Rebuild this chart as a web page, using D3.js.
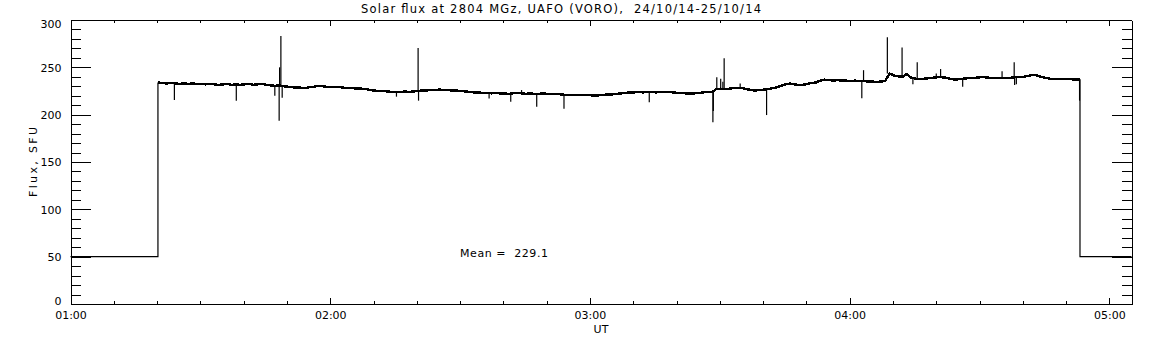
<!DOCTYPE html>
<html>
<head>
<meta charset="utf-8">
<script src="https://cdn.jsdelivr.net/npm/d3@7"></script>
<style>
body { margin: 0; background: #fff; }
text { font-family: "DejaVu Sans", sans-serif; fill: #000; }
</style>
</head>
<body>
<svg id="chart"></svg>
<script>
var title = "Solar flux at 2804 MGz, UAFO (VORO),  24/10/14-25/10/14";
var xTitle = "UT";
var yTitle = "Flux, SFU";
var meanLabel = "Mean =  229.1";

// time is minutes after 01:00 UT
var hourTicks = [0, 60, 120, 180, 240];
var hourLabels = ["01:00", "02:00", "03:00", "04:00", "05:00"];
var yTicks = [0, 50, 100, 150, 200, 250, 300];
var yLabels = ["0", "50", "100", "150", "200", "250", "300"];

var offLevel = 50;
var fluxStartMin = 20.2;
// one reading per minute from 01:20 to 04:53
var flux = [
  234, 233.5, 233, 233.5, 233, 232.5, 233, 232.5, 233, 232.5,
  232.5, 232, 232.5, 232, 231.5, 232, 232.5, 231.5, 232, 231.5,
  232, 232.5, 231.5, 232, 232.5, 231.5, 231, 230.5, 231, 230,
  229.5, 229, 228.5, 228.5, 228, 229, 229.5, 230.5, 230, 229.5,
  229.5, 229, 229, 228.5, 228, 228, 227.5, 227.5, 227, 226,
  225.5, 225, 225, 224.5, 224, 224, 224, 224.5, 224, 224.5,
  225, 225.5, 225.5, 226, 226, 226.5, 226, 226, 225.5, 225.5,
  225, 224.5, 224, 223.5, 223.5, 223, 223, 222.5, 223, 222.5,
  222.5, 222, 222.5, 223, 222.5, 222, 222.5, 222, 222, 222.5,
  222, 221.5, 222, 221.5, 221, 221, 220.5, 221, 220.5, 220.5,
  220.5, 220, 220.5, 221, 221.5, 221.5, 222, 222.5, 223, 223.5,
  223.5, 224, 223.5, 224, 224, 223.5, 224, 224, 224, 223.5,
  223, 223, 222.5, 222.5, 222.5, 223, 223.5, 224, 224, 227,
  227.5, 227, 227.5, 228, 228, 228, 227, 226, 225.5, 226,
  226.5, 227, 228, 229, 230.5, 232, 233, 232, 231.5, 231.5,
  232.5, 233.5, 234, 236, 237, 236.5, 236, 236.5, 236, 236,
  235.5, 236, 235.5, 235.5, 235, 235, 234.5, 235, 235.5, 243.5,
  241.5, 240.5, 240, 243, 239, 238, 237.5, 238, 238.5, 239,
  239.5, 239.5, 239, 238, 237, 237.5, 238, 238.5, 239, 239,
  239.5, 239.5, 239, 238.5, 238.5, 238.5, 239, 239, 239.5, 239.5,
  240, 241, 242, 241.5, 240, 239, 238, 237.5, 237.5, 238,
  237.5, 237.5, 237, 237.5
];

// short spikes (minute, peak value)
var spikeMin = [24.0, 38.3, 47.2, 48.2, 48.3, 48.6, 48.9, 75.3, 80.3, 80.4,
  96.7, 101.7, 104.2, 107.7, 114.0, 133.7, 148.4, 148.5, 149.3, 150.2,
  150.7, 151.0, 154.7, 160.8, 182.8, 183.2, 188.7, 192.1, 194.6, 195.6,
  200.0, 201.0, 206.1, 215.2, 218.0, 218.1, 218.5, 233.1];
var spikeVal = [215.5, 214.7, 220, 193.6, 250, 283, 218, 219, 270.4, 214.8,
  217, 213.7, 226, 208.4, 206.3, 213, 192, 204, 239.4, 238,
  234.8, 259.5, 233, 199.6, 217.3, 247, 281.7, 271, 232, 255.3,
  243.6, 248.2, 229.5, 245.8, 255.3, 231.3, 232, 214.8];

var width = 1152, height = 345;
var plot = { left: 70.5, right: 1131.5, top: 20, bottom: 304 };
var endMin = 245.1;

var svg = d3.select("#chart")
  .attr("width", width)
  .attr("height", height);

svg.append("rect").attr("width", width).attr("height", height).attr("fill", "#fff");

var xScale = d3.scaleLinear().domain([0, endMin]).range([plot.left, plot.right]);
var yScale = d3.scaleLinear().domain([0, 300]).range([plot.bottom, plot.top]);

var minorX = d3.range(10, endMin, 10).filter(function(d) { return d % 60 != 0; });
var minorY = d3.range(10, 300, 10).filter(function(d) { return d % 50 != 0; });

function styleAxis(g) {
  g.selectAll("path,line").attr("stroke", "#000").attr("stroke-width", 1).attr("shape-rendering", "crispEdges");
  g.selectAll("text").attr("font-size", 11).attr("font-family", "DejaVu Sans, sans-serif").attr("fill", "#000");
}

// left axis, ticks pointing in
var leftAxis = svg.append("g")
  .attr("transform", "translate(" + plot.left + ",0)")
  .call(d3.axisLeft(yScale).tickValues(yTicks).tickSize(-20).tickSizeOuter(0).tickPadding(9)
    .tickFormat(function(d, i) { return yLabels[i]; }))
  .call(styleAxis);
leftAxis.selectAll(".tick text").attr("dy", function(d) {
  if (d == 300) return "0.72em";
  if (d == 0) return "0em";
  return "0.36em";
});
svg.append("g")
  .attr("transform", "translate(" + plot.left + ",0)")
  .call(d3.axisLeft(yScale).tickValues(minorY).tickSize(-10).tickSizeOuter(0).tickFormat(""))
  .call(styleAxis);

// right axis
svg.append("g")
  .attr("transform", "translate(" + plot.right + ",0)")
  .call(d3.axisRight(yScale).tickValues(yTicks).tickSize(-20).tickSizeOuter(0).tickFormat(""))
  .call(styleAxis);
svg.append("g")
  .attr("transform", "translate(" + plot.right + ",0)")
  .call(d3.axisRight(yScale).tickValues(minorY).tickSize(-10).tickSizeOuter(0).tickFormat(""))
  .call(styleAxis);

// bottom axis
svg.append("g")
  .attr("transform", "translate(0," + plot.bottom + ")")
  .call(d3.axisBottom(xScale).tickValues(hourTicks).tickSize(-6).tickSizeOuter(0).tickPadding(7)
    .tickFormat(function(d, i) { return hourLabels[i]; }))
  .call(styleAxis);
svg.append("g")
  .attr("transform", "translate(0," + plot.bottom + ")")
  .call(d3.axisBottom(xScale).tickValues(minorX).tickSize(-3).tickSizeOuter(0).tickFormat(""))
  .call(styleAxis);

// top axis
svg.append("g")
  .attr("transform", "translate(0," + plot.top + ")")
  .call(d3.axisTop(xScale).tickValues(hourTicks).tickSize(-6).tickSizeOuter(0).tickFormat(""))
  .call(styleAxis);
svg.append("g")
  .attr("transform", "translate(0," + plot.top + ")")
  .call(d3.axisTop(xScale).tickValues(minorX).tickSize(-3).tickSizeOuter(0).tickFormat(""))
  .call(styleAxis);

// data
var fluxPts = flux.map(function(v, i) { return [fluxStartMin + i, v]; });
var lastMin = fluxStartMin + flux.length - 1;
var line = d3.line()
  .x(function(d) { return xScale(d[0]); })
  .y(function(d) { return yScale(d[1]); });

var offPts = [[0, offLevel], [fluxStartMin, offLevel], [fluxStartMin, flux[0]]];
var offPts2 = [[lastMin, flux[flux.length - 1]], [lastMin, offLevel], [endMin, offLevel]];

svg.append("path").datum(offPts).attr("d", line)
  .attr("fill", "none").attr("stroke", "#000").attr("stroke-width", 1.2);
svg.append("path").datum(offPts2).attr("d", line)
  .attr("fill", "none").attr("stroke", "#000").attr("stroke-width", 1.2);
svg.append("path").datum(fluxPts).attr("d", line)
  .attr("fill", "none").attr("stroke", "#000").attr("stroke-width", 2.4)
  .attr("shape-rendering", "crispEdges");

var spikes = spikeMin.map(function(m, i) {
  var base = flux[Math.max(0, Math.min(flux.length - 1, Math.round(m - fluxStartMin)))];
  return { m: m, base: base, v: spikeVal[i] };
});
svg.selectAll(".spike").data(spikes).enter().append("line")
  .attr("class", "spike")
  .attr("x1", function(d) { return xScale(d.m); })
  .attr("x2", function(d) { return xScale(d.m); })
  .attr("y1", function(d) { return yScale(d.base); })
  .attr("y2", function(d) { return yScale(d.v); })
  .attr("stroke", "#000").attr("stroke-width", 1.2);

// texts
svg.append("text")
  .attr("x", 561).attr("y", 13)
  .attr("text-anchor", "middle")
  .attr("font-size", 11.5)
  .style("white-space", "pre")
  .attr("textLength", 400).attr("lengthAdjust", "spacing")
  .text(title);

svg.append("text")
  .attr("x", (plot.left + plot.right) / 2).attr("y", 333)
  .attr("text-anchor", "middle")
  .attr("font-size", 11)
  .text(xTitle);

svg.append("text")
  .attr("transform", "translate(37," + (plot.top + plot.bottom) / 2 + ") rotate(-90)")
  .attr("text-anchor", "middle")
  .attr("font-size", 11)
  .attr("textLength", 70).attr("lengthAdjust", "spacing")
  .text(yTitle);

svg.append("text")
  .attr("x", 460).attr("y", 257)
  .attr("font-size", 11)
  .style("white-space", "pre")
  .attr("textLength", 88).attr("lengthAdjust", "spacing")
  .text(meanLabel);
</script>
</body>
</html>
